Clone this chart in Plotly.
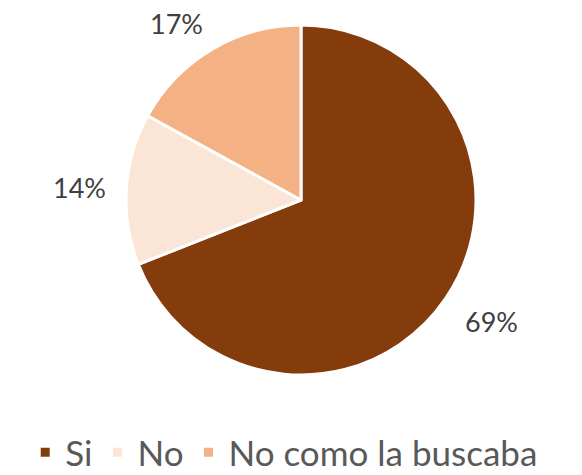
import math
import plotly.graph_objects as go

categories = ["Si", "No", "No como la buscaba"]
values = [69, 14, 17]
colors = ["#843C0C", "#FBE5D6", "#F4B183"]

W, H = 582, 475
OFF = 8  # page body margin
cx_px, cy_px, r_px = 301 - OFF, 200 - OFF, 175
label_r = 197

fig = go.Figure(go.Pie(
    labels=categories,
    values=values,
    sort=False,
    direction="clockwise",
    rotation=0,
    marker=dict(colors=colors, line=dict(color="white", width=3)),
    textinfo="none",
    domain=dict(x=[(cx_px - r_px) / W, (cx_px + r_px) / W],
                y=[1 - (cy_px + r_px) / H, 1 - (cy_px - r_px) / H]),
    hoverinfo="label+percent",
))

total = sum(values)
cum = 0
for v in values:
    mid = (cum + v / 2) / total * 2 * math.pi
    cum += v
    sx = math.sin(mid)
    sy = math.cos(mid)
    xa = "left" if sx > 0.3 else ("right" if sx < -0.3 else "center")
    ya = "bottom" if sy > 0.3 else ("top" if sy < -0.3 else "middle")
    ys = {"bottom": -11, "top": 7, "middle": 0}[ya]
    xs = {"left": 0, "right": 3, "center": 0}[xa]
    fig.add_annotation(
        x=(cx_px + label_r * sx) / W, y=1 - (cy_px - label_r * sy) / H,
        xref="paper", yref="paper",
        text=f"{round(v / total * 100)}%",
        showarrow=False,
        xanchor=xa, yanchor=ya,
        xshift=xs, yshift=ys,
        borderpad=0,
        font=dict(family="Lato", size=27, color="#404040"),
    )

fig.update_layout(
    width=W, height=H,
    margin=dict(l=0, r=0, t=0, b=0),
    paper_bgcolor="white",
    plot_bgcolor="white",
    showlegend=True,
    legend=dict(
        orientation="h",
        x=0.4746, xanchor="center",
        y=1 - 474 / H, yanchor="bottom",
        font=dict(family="Lato", size=35, color="#595959"),
        itemwidth=30,
    ),
)

fig.write_html("out.html")
